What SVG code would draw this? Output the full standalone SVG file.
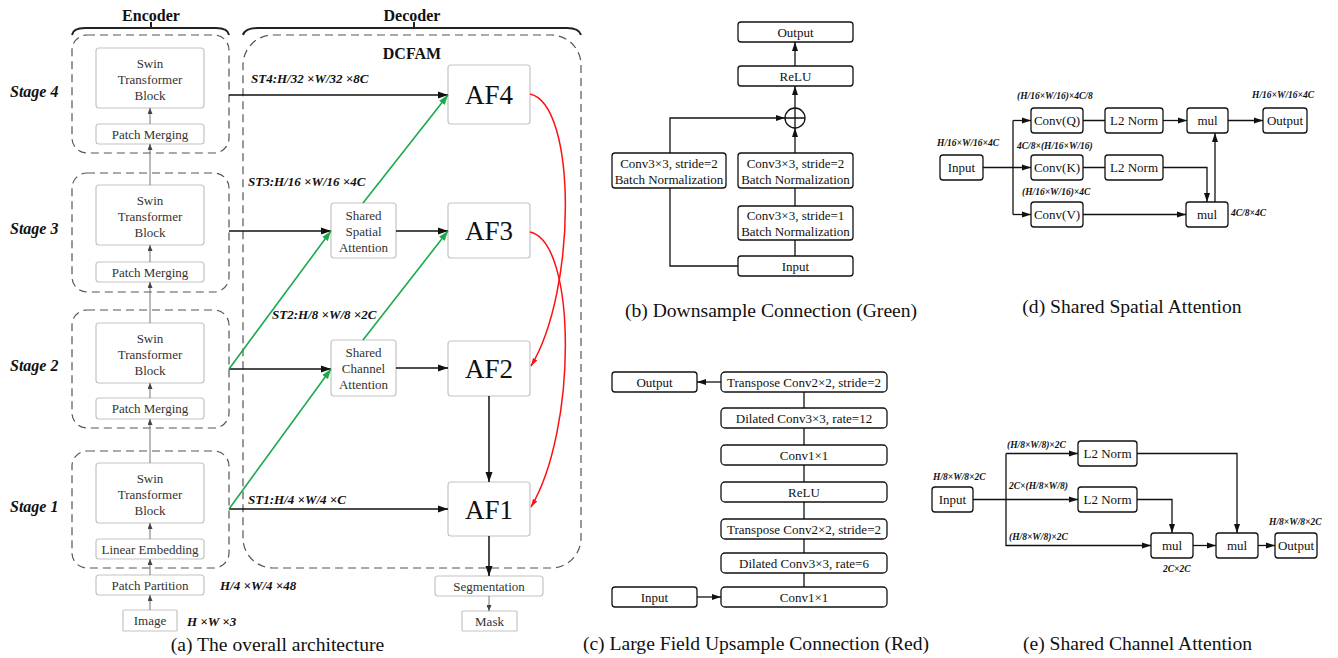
<svg xmlns="http://www.w3.org/2000/svg" width="1338" height="658" viewBox="0 0 1338 658">
<style>
text{font-family:"Liberation Serif","Times New Roman",serif;fill:#111}
.t13{font-size:13px;text-anchor:middle}
.g13{font-size:13px;text-anchor:middle;fill:#333}
.cap{font-size:19.6px;text-anchor:middle}
.hdr{font-size:16px;font-weight:bold;text-anchor:middle}
.stg{font-size:16px;font-weight:bold;font-style:italic}
.lab{font-size:13px;font-weight:bold;font-style:italic}
.sm{font-size:9.5px;font-weight:bold;font-style:italic}
.af{font-size:27px;text-anchor:middle;fill:#111}
.gb{fill:#fff;stroke:#c4c4c4;stroke-width:1.2}
.bb{fill:#fff;stroke:#111;stroke-width:1.3}
.dash{fill:none;stroke:#555;stroke-width:1.2;stroke-dasharray:8 5}
.brace{fill:none;stroke:#222;stroke-width:2}
.ln{fill:none;stroke:#111;stroke-width:1.3}
.lnk{fill:none;stroke:#111;stroke-width:1.5}
.gl{fill:none;stroke:#777;stroke-width:1}
.grn{fill:none;stroke:#1aaa4a;stroke-width:1.6}
.red{fill:none;stroke:#ff1010;stroke-width:1.5}
</style>
<defs>
<marker id="aB" markerUnits="userSpaceOnUse" markerWidth="10" markerHeight="8" refX="10" refY="4" orient="auto"><path d="M0,0.5 L10,4 L0,7.5 z" fill="#111"/></marker>
<marker id="aS" markerUnits="userSpaceOnUse" markerWidth="9" markerHeight="7" refX="9" refY="3.5" orient="auto"><path d="M0,0.5 L9,3.5 L0,6.5 z" fill="#111"/></marker>
<marker id="aG" markerUnits="userSpaceOnUse" markerWidth="10" markerHeight="8" refX="10" refY="4" orient="auto"><path d="M0,0.5 L10,4 L0,7.5 z" fill="#1aaa4a"/></marker>
<marker id="aR" markerUnits="userSpaceOnUse" markerWidth="8" markerHeight="6" refX="8" refY="3" orient="auto"><path d="M0,0.5 L8,3 L0,5.5 z" fill="#ff1010"/></marker>
<marker id="aY" markerUnits="userSpaceOnUse" markerWidth="6" markerHeight="5" refX="6" refY="2.5" orient="auto"><path d="M0,0 L6,2.5 L0,5 z" fill="#444"/></marker>
</defs>

<!-- Panel (a) frame elements -->
<g id="encoder-header">
<text class="hdr" x="151" y="21">Encoder</text>
<path class="brace" d="M72,35 Q73,28 85,28 L216,28 Q228,28 229,35 M151,28 V22"/>
</g>
<g id="decoder-header">
<text class="hdr" x="412" y="21">Decoder</text>
<path class="brace" d="M243,35 Q245,28 258,28 L567,28 Q579,28 581,35 M414,28 V22"/>
</g>
<g id="dcfam">
<rect class="dash" x="243" y="35" width="338" height="533" rx="30"/>
<text class="hdr" x="412" y="59">DCFAM</text>
</g>

<g id="stage4">
<rect class="dash" x="72" y="35" width="157" height="118" rx="15"/>
<text class="stg" x="10" y="97">Stage 4</text>
</g>
<g id="swin4"><rect class="gb" x="96" y="48" width="108" height="60" rx="3"/>
<text class="g13" x="150" y="67.5">Swin</text><text class="g13" x="150" y="83.5">Transformer</text><text class="g13" x="150" y="99.5">Block</text></g>
<g id="pm4"><rect class="gb" x="96" y="124" width="108" height="20" rx="3"/><text class="g13" x="150" y="138.5">Patch Merging</text></g>

<g id="stage3">
<rect class="dash" x="72" y="173" width="157" height="119" rx="15"/>
<text class="stg" x="10" y="234">Stage 3</text>
</g>
<g id="swin3"><rect class="gb" x="96" y="185" width="108" height="60" rx="3"/>
<text class="g13" x="150" y="204.5">Swin</text><text class="g13" x="150" y="220.5">Transformer</text><text class="g13" x="150" y="236.5">Block</text></g>
<g id="pm3"><rect class="gb" x="96" y="262" width="108" height="20" rx="3"/><text class="g13" x="150" y="276.5">Patch Merging</text></g>

<g id="stage2">
<rect class="dash" x="72" y="310" width="157" height="118" rx="15"/>
<text class="stg" x="10" y="371">Stage 2</text>
</g>
<g id="swin2"><rect class="gb" x="96" y="323" width="108" height="60" rx="3"/>
<text class="g13" x="150" y="342.5">Swin</text><text class="g13" x="150" y="358.5">Transformer</text><text class="g13" x="150" y="374.5">Block</text></g>
<g id="pm2"><rect class="gb" x="96" y="398" width="108" height="21" rx="3"/><text class="g13" x="150" y="413">Patch Merging</text></g>

<g id="stage1">
<rect class="dash" x="72" y="451" width="157" height="117" rx="15"/>
<text class="stg" x="10" y="512">Stage 1</text>
</g>
<g id="swin1"><rect class="gb" x="96" y="463" width="108" height="60" rx="3"/>
<text class="g13" x="150" y="482.5">Swin</text><text class="g13" x="150" y="498.5">Transformer</text><text class="g13" x="150" y="514.5">Block</text></g>
<g id="le1"><rect class="gb" x="96" y="539" width="108" height="20" rx="3"/><text class="g13" x="150" y="553.5">Linear Embedding</text></g>
<g id="pp"><rect class="gb" x="96" y="575" width="108" height="20" rx="3"/><text class="g13" x="150" y="589.5">Patch Partition</text></g>
<g id="img"><rect class="gb" x="123" y="610" width="54" height="21" rx="1"/><text class="g13" x="150" y="625">Image</text></g>
<text class="lab" x="220" y="590">H/4 ×W/4 ×48</text>
<text class="lab" x="187" y="626">H ×W ×3</text>
<text class="cap" x="277.5" y="651">(a) The overall architecture</text>

<g id="ssa"><rect class="gb" x="331" y="203" width="65" height="55" rx="3"/>
<text class="g13" x="363.5" y="219.5">Shared</text><text class="g13" x="363.5" y="235.5">Spatial</text><text class="g13" x="363.5" y="251.5">Attention</text></g>
<g id="sca"><rect class="gb" x="331" y="340" width="65" height="56" rx="3"/>
<text class="g13" x="363.5" y="356.5">Shared</text><text class="g13" x="363.5" y="372.5">Channel</text><text class="g13" x="363.5" y="388.5">Attention</text></g>
<g id="af4"><rect class="gb" x="448" y="65" width="82" height="59" rx="3"/><text class="af" x="489" y="104">AF4</text></g>
<g id="af3"><rect class="gb" x="448" y="203" width="82" height="55" rx="3"/><text class="af" x="489" y="240">AF3</text></g>
<g id="af2"><rect class="gb" x="448" y="341" width="82" height="55" rx="3"/><text class="af" x="489" y="378">AF2</text></g>
<g id="af1"><rect class="gb" x="448" y="482" width="82" height="54" rx="3"/><text class="af" x="489" y="518.5">AF1</text></g>
<g id="seg"><rect class="gb" x="435" y="576" width="108" height="20" rx="3"/><text class="g13" x="489" y="590.5">Segmentation</text></g>
<g id="mask"><rect class="gb" x="462" y="611" width="55" height="20" rx="1"/><text class="g13" x="489.5" y="625.5">Mask</text></g>
<text class="lab" x="251" y="83">ST4:H/32 ×W/32 ×8C</text>
<text class="lab" x="248" y="186">ST3:H/16 ×W/16 ×4C</text>
<text class="lab" x="272" y="319">ST2:H/8 ×W/8 ×2C</text>
<text class="lab" x="248" y="504">ST1:H/4 ×W/4 ×C</text>

<g id="connectors-a">
<path class="gl" marker-end="url(#aY)" d="M150,610 V595"/>
<path class="gl" marker-end="url(#aY)" d="M150,575 V559"/>
<path class="gl" marker-end="url(#aY)" d="M150,539 V523"/>
<path class="gl" marker-end="url(#aY)" d="M150,463 V419"/>
<path class="gl" marker-end="url(#aY)" d="M150,398 V383"/>
<path class="gl" marker-end="url(#aY)" d="M150,323 V282"/>
<path class="gl" marker-end="url(#aY)" d="M150,262 V245"/>
<path class="gl" marker-end="url(#aY)" d="M150,185 V144"/>
<path class="gl" marker-end="url(#aY)" d="M150,124 V108"/>
<path class="gl" marker-end="url(#aY)" d="M489,596 V611"/>
<path class="lnk" marker-end="url(#aB)" d="M229,95 H448"/>
<path class="lnk" marker-end="url(#aB)" d="M229,231 H331"/>
<path class="lnk" marker-end="url(#aB)" d="M396,231 H448"/>
<path class="lnk" marker-end="url(#aB)" d="M229,369 H331"/>
<path class="lnk" marker-end="url(#aB)" d="M396,368 H448"/>
<path class="lnk" marker-end="url(#aB)" d="M229,509 H448"/>
<path class="lnk" marker-end="url(#aB)" d="M489,396 V482"/>
<path class="lnk" marker-end="url(#aB)" d="M489,536 V576"/>
<path class="grn" marker-end="url(#aG)" d="M229,369 L331,231"/>
<path class="grn" marker-end="url(#aG)" d="M363,203 L448,95"/>
<path class="grn" marker-end="url(#aG)" d="M363,340 L448,231"/>
<path class="grn" marker-end="url(#aG)" d="M229,509 L331,369"/>
<path class="red" marker-end="url(#aR)" d="M530,94 C577,104 577,290 531,366"/>
<path class="red" marker-end="url(#aR)" d="M530,232 C577,242 577,430 531,507"/>
</g>

<!-- Panel (b) -->
<g id="b-output"><rect class="bb" x="738" y="22" width="115" height="20" rx="3"/><text class="t13" x="795.5" y="36.5">Output</text></g>
<g id="b-relu"><rect class="bb" x="738" y="66" width="115" height="20" rx="3"/><text class="t13" x="795.5" y="80.5">ReLU</text></g>
<g id="b-add"><circle cx="795" cy="118" r="10" fill="#fff" stroke="#111" stroke-width="1.3"/><path class="ln" d="M785,118 H805 M795,108 V128"/></g>
<g id="b-conv-right"><rect class="bb" x="738" y="153" width="115" height="35" rx="3"/><text class="t13" x="795.5" y="167.5">Conv3×3, stride=2</text><text class="t13" x="795.5" y="183.5">Batch Normalization</text></g>
<g id="b-conv-s1"><rect class="bb" x="738" y="206" width="115" height="34" rx="3"/><text class="t13" x="795.5" y="219.5">Conv3×3, stride=1</text><text class="t13" x="795.5" y="235.5">Batch Normalization</text></g>
<g id="b-input"><rect class="bb" x="738" y="256" width="115" height="20" rx="3"/><text class="t13" x="795.5" y="270.5">Input</text></g>
<g id="b-conv-left"><rect class="bb" x="612" y="153" width="114" height="35" rx="3"/><text class="t13" x="669" y="167.5">Conv3×3, stride=2</text><text class="t13" x="669" y="183.5">Batch Normalization</text></g>
<g id="connectors-b">
<path class="ln" d="M795,256 V240 M795,206 V188"/>
<path class="ln" marker-end="url(#aS)" d="M795,153 V128"/>
<path class="ln" marker-end="url(#aS)" d="M795,108 V86"/>
<path class="ln" marker-end="url(#aS)" d="M795,66 V42"/>
<path class="ln" d="M738,266 H670 V188"/>
<path class="ln" marker-end="url(#aS)" d="M670,153 V118 H785"/>
</g>
<text class="cap" x="771" y="317">(b) Downsample Connection (Green)</text>

<!-- Panel (c) -->
<g id="connectors-c">
<path class="ln" d="M804,392 V587"/>
<path class="ln" marker-end="url(#aS)" d="M721,382 H697"/>
<path class="ln" marker-end="url(#aS)" d="M697,597 H721"/>
</g>
<g id="c-output"><rect class="bb" x="612" y="372" width="85" height="20" rx="3"/><text class="t13" x="654.5" y="386.5">Output</text></g>
<g id="c-tconv1"><rect class="bb" x="721" y="372" width="166" height="20" rx="4"/><text class="t13" x="804" y="386.5">Transpose Conv2×2, stride=2</text></g>
<g id="c-dil12"><rect class="bb" x="721" y="408" width="166" height="20" rx="4"/><text class="t13" x="804" y="422.5">Dilated Conv3×3, rate=12</text></g>
<g id="c-conv1a"><rect class="bb" x="721" y="445" width="166" height="20" rx="4"/><text class="t13" x="804" y="459.5">Conv1×1</text></g>
<g id="c-relu"><rect class="bb" x="721" y="482" width="166" height="20" rx="4"/><text class="t13" x="804" y="496.5">ReLU</text></g>
<g id="c-tconv2"><rect class="bb" x="721" y="519" width="166" height="20" rx="4"/><text class="t13" x="804" y="533.5">Transpose Conv2×2, stride=2</text></g>
<g id="c-dil6"><rect class="bb" x="721" y="553" width="166" height="20" rx="4"/><text class="t13" x="804" y="567.5">Dilated Conv3×3, rate=6</text></g>
<g id="c-conv1b"><rect class="bb" x="721" y="587" width="166" height="20" rx="4"/><text class="t13" x="804" y="601.5">Conv1×1</text></g>
<g id="c-input"><rect class="bb" x="612" y="587" width="85" height="20" rx="3"/><text class="t13" x="654.5" y="601.5">Input</text></g>
<text class="cap" x="756" y="650">(c) Large Field Upsample Connection (Red)</text>

<!-- Panel (d) -->
<g id="connectors-d">
<path class="ln" marker-end="url(#aS)" d="M983,167.5 H1031"/>
<path class="ln" d="M1013,120.5 V214.5"/>
<path class="ln" marker-end="url(#aS)" d="M1013,120.5 H1031"/>
<path class="ln" marker-end="url(#aS)" d="M1013,214.5 H1031"/>
<path class="ln" d="M1083,120.5 H1105 M1083,167.5 H1105"/>
<path class="ln" marker-end="url(#aS)" d="M1163,120.5 H1187"/>
<path class="ln" marker-end="url(#aS)" d="M1163,167.5 H1207 V202"/>
<path class="ln" marker-end="url(#aS)" d="M1083,214.5 H1186"/>
<path class="ln" marker-end="url(#aS)" d="M1215,202 V133"/>
<path class="ln" marker-end="url(#aS)" d="M1228,120.5 H1263"/>
</g>
<g id="d-input"><rect class="bb" x="940" y="155" width="43" height="25" rx="3"/><text class="t13" x="961.5" y="172">Input</text></g>
<g id="d-convq"><rect class="bb" x="1031" y="108" width="52" height="25" rx="3"/><text class="t13" x="1057" y="125">Conv(Q)</text></g>
<g id="d-convk"><rect class="bb" x="1031" y="155" width="52" height="25" rx="3"/><text class="t13" x="1057" y="172">Conv(K)</text></g>
<g id="d-convv"><rect class="bb" x="1031" y="202" width="52" height="25" rx="3"/><text class="t13" x="1057" y="219">Conv(V)</text></g>
<g id="d-l2q"><rect class="bb" x="1105" y="108" width="58" height="25" rx="3"/><text class="t13" x="1134" y="125">L2 Norm</text></g>
<g id="d-l2k"><rect class="bb" x="1105" y="155" width="58" height="25" rx="3"/><text class="t13" x="1134" y="172">L2 Norm</text></g>
<g id="d-mul1"><rect class="bb" x="1187" y="108" width="41" height="25" rx="3"/><text class="t13" x="1207.5" y="125">mul</text></g>
<g id="d-mul2"><rect class="bb" x="1186" y="202" width="42" height="25" rx="3"/><text class="t13" x="1207" y="219">mul</text></g>
<g id="d-output"><rect class="bb" x="1263" y="108" width="44" height="25" rx="3"/><text class="t13" x="1285" y="125">Output</text></g>
<text class="sm" x="937" y="146">H/16×W/16×4C</text>
<text class="sm" x="1017" y="99">(H/16×W/16)×4C/8</text>
<text class="sm" x="1017" y="149">4C/8×(H/16×W/16)</text>
<text class="sm" x="1022" y="195">(H/16×W/16)×4C</text>
<text class="sm" x="1231" y="216">4C/8×4C</text>
<text class="sm" x="1252" y="98">H/16×W/16×4C</text>
<text class="cap" x="1132" y="313">(d) Shared Spatial Attention</text>

<!-- Panel (e) -->
<g id="connectors-e">
<path class="ln" marker-end="url(#aS)" d="M973,499.5 H1078"/>
<path class="ln" marker-end="url(#aS)" d="M1006,453.5 H1078"/>
<path class="ln" marker-end="url(#aS)" d="M1006,453.5 V545.5 H1151"/>
<path class="ln" marker-end="url(#aS)" d="M1137,453.5 H1237 V533"/>
<path class="ln" marker-end="url(#aS)" d="M1137,499.5 H1172 V533"/>
<path class="ln" marker-end="url(#aS)" d="M1193,545.5 H1216"/>
<path class="ln" marker-end="url(#aS)" d="M1258,545.5 H1275"/>
</g>
<g id="e-input"><rect class="bb" x="932" y="487" width="41" height="25" rx="3"/><text class="t13" x="952.5" y="504">Input</text></g>
<g id="e-l2a"><rect class="bb" x="1078" y="441" width="59" height="25" rx="3"/><text class="t13" x="1107.5" y="458">L2 Norm</text></g>
<g id="e-l2b"><rect class="bb" x="1078" y="487" width="59" height="25" rx="3"/><text class="t13" x="1107.5" y="504">L2 Norm</text></g>
<g id="e-mul1"><rect class="bb" x="1151" y="533" width="42" height="25" rx="3"/><text class="t13" x="1172" y="550">mul</text></g>
<g id="e-mul2"><rect class="bb" x="1216" y="533" width="42" height="25" rx="3"/><text class="t13" x="1237" y="550">mul</text></g>
<g id="e-output"><rect class="bb" x="1275" y="533" width="42" height="25" rx="3"/><text class="t13" x="1296" y="550">Output</text></g>
<text class="sm" x="933" y="480">H/8×W/8×2C</text>
<text class="sm" x="1007" y="448">(H/8×W/8)×2C</text>
<text class="sm" x="1009" y="489">2C×(H/8×W/8)</text>
<text class="sm" x="1009" y="540">(H/8×W/8)×2C</text>
<text class="sm" x="1163" y="572">2C×2C</text>
<text class="sm" x="1269" y="525">H/8×W/8×2C</text>
<text class="cap" x="1137.5" y="650">(e) Shared Channel Attention</text>
</svg>
